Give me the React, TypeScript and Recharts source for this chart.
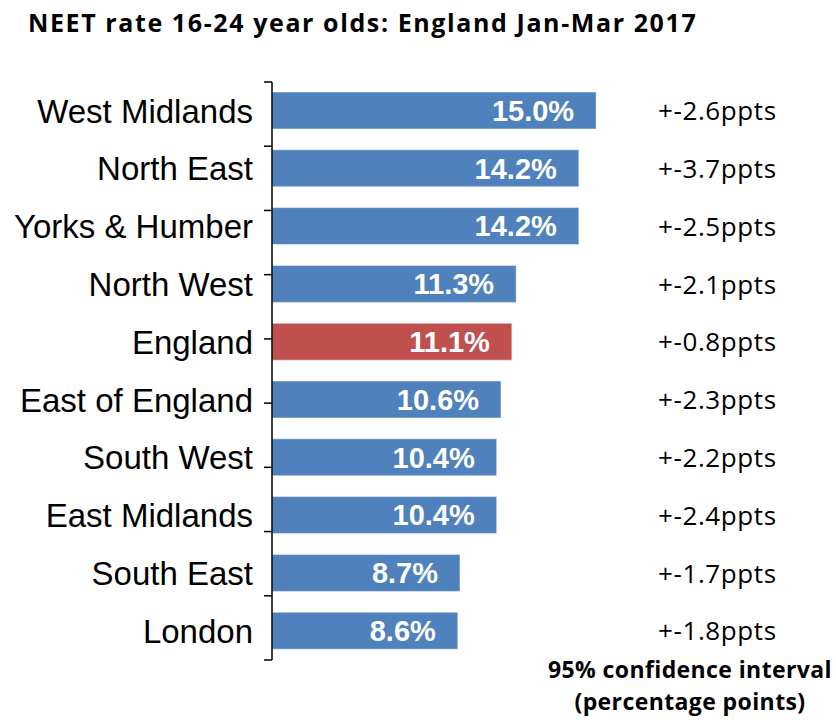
import React from 'react';
import { BarChart, Bar, XAxis, YAxis, Cell, LabelList } from 'recharts';

const regions = [
  'West Midlands',
  'North East',
  'Yorks & Humber',
  'North West',
  'England',
  'East of England',
  'South West',
  'East Midlands',
  'South East',
  'London',
];
const neetRates = [15.0, 14.2, 14.2, 11.3, 11.1, 10.6, 10.4, 10.4, 8.7, 8.6];
const confIntervals = [2.6, 3.7, 2.5, 2.1, 0.8, 2.3, 2.2, 2.4, 1.7, 1.8];
const edgeTicks = [0, 1, 2, 3, 4, 5, 6, 7, 8, 9, 10];

const BLUE = '#4F81BD';
const RED = '#C0504D';

const data = regions.map((name, i) => ({
  name,
  value: neetRates[i],
  ci: `+-${confIntervals[i].toFixed(1)}ppts`,
}));

const App: React.FC = () => {
  return (
    <div style={{ position: 'absolute', left: 0, top: 0, width: 836, height: 724, background: '#fff' }}>
      <div
        style={{
          position: 'absolute',
          left: 28,
          top: 5,
          fontFamily: '"Open Sans", sans-serif',
          fontWeight: 700,
          fontSize: 25,
          letterSpacing: 1.6,
          color: '#000',
          whiteSpace: 'nowrap',
        }}
      >
        NEET rate 16-24 year olds: England Jan-Mar 2017
      </div>
      {/* clip below the bottom edge so no stray axis marks show */}
      <div style={{ position: 'absolute', left: 0, top: 0, width: 836, height: 680, overflow: 'hidden' }}>
        <BarChart
          width={836}
          height={724}
          data={data}
          layout="vertical"
          margin={{ top: 82, right: 0, bottom: 64, left: 0 }}
        >
          <XAxis xAxisId="x" type="number" domain={[0, 17.4]} allowDataOverflow hide />
          <YAxis
            yAxisId="cat"
            type="category"
            dataKey="name"
            width={271}
            axisLine={false}
            tickLine={false}
            tickSize={0}
            tickMargin={18}
            interval={0}
            tick={{ fill: '#000', fontSize: 33, fontFamily: '"Liberation Sans", Arial, sans-serif' }}
          />
          <YAxis
            yAxisId="a_edges"
            type="number"
            domain={[0, 10]}
            ticks={edgeTicks}
            allowDataOverflow
            width={1}
            tickFormatter={() => ''}
            tickSize={8}
            axisLine={{ stroke: '#000', strokeWidth: 1.5 }}
            tickLine={{ stroke: '#000', strokeWidth: 1.5 }}
          />
          <YAxis
            yAxisId="ci"
            orientation="right"
            type="category"
            dataKey="ci"
            width={188}
            axisLine={false}
            tickLine={false}
            tickSize={0}
            tickMargin={10}
            interval={0}
            tick={{
              fill: '#000',
              fontSize: 26,
              letterSpacing: 0.6,
              fontFamily: '"Open Sans", sans-serif',
              textAnchor: 'start',
            }}
          />
          <Bar
            dataKey="value"
            xAxisId="x"
            yAxisId="cat"
            barSize={37}
            stroke="#ffffff"
            strokeOpacity={0.5}
            isAnimationActive={false}
          >
            {data.map((d, i) => (
              <Cell key={`c-${i}`} fill={d.name === 'England' ? RED : BLUE} />
            ))}
            <LabelList
              dataKey="value"
              position="insideRight"
              offset={22}
              formatter={(v: number) => `${v.toFixed(1)}%`}
              style={{ fill: '#fff', fontSize: 29, fontWeight: 700, fontFamily: '"Liberation Sans", Arial, sans-serif' }}
            />
          </Bar>
        </BarChart>
      </div>
      <div
        style={{
          position: 'absolute',
          left: 540,
          width: 300,
          top: 653,
          textAlign: 'center',
          fontFamily: '"Open Sans", sans-serif',
          fontWeight: 700,
          fontSize: 23,
          letterSpacing: 0.4,
          lineHeight: '32px',
          color: '#000',
        }}
      >
        95% confidence interval
        <br />
        (percentage points)
      </div>
    </div>
  );
};

export default App;
